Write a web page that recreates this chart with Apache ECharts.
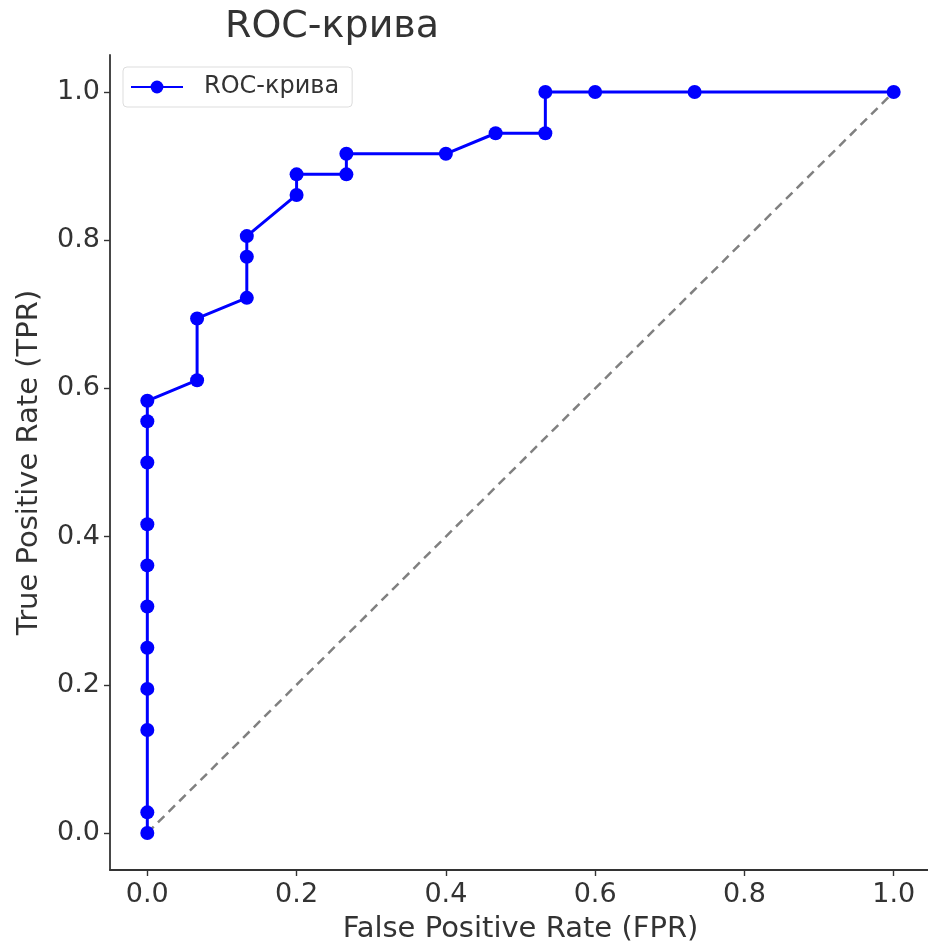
<!DOCTYPE html>
<html>
<head>
<meta charset="utf-8">
<script src="https://cdn.jsdelivr.net/npm/echarts@6/dist/echarts.min.js"></script>
<style>html,body{margin:0;padding:0;background:#fff;overflow:hidden;}#c{width:928px;height:946px;}</style>
</head>
<body>
<div id="c"></div>
<script>
const fpr = [0, 0, 0, 0, 0, 0, 0, 0, 0, 0, 0, 0.0667, 0.0667, 0.1333, 0.1333, 0.1333, 0.2, 0.2, 0.2667, 0.2667, 0.4, 0.4667, 0.5333, 0.5333, 0.6, 0.7333, 1.0];
const tpr = [0, 0.0278, 0.1389, 0.1944, 0.25, 0.3056, 0.3611, 0.4167, 0.5, 0.5556, 0.5833, 0.6111, 0.6944, 0.7222, 0.7778, 0.8056, 0.8611, 0.8889, 0.8889, 0.9167, 0.9167, 0.9444, 0.9444, 1.0, 1.0, 1.0, 1.0];
const chanceX = [0, 1];
const chanceY = [0, 1];
const tickValues = [0, 0.2, 0.4, 0.6, 0.8, 1.0];
const seriesName = 'ROC-крива';
const titleText = 'ROC-крива';
const xName = 'False Positive Rate (FPR)';
const yName = 'True Positive Rate (TPR)';

const font = 'DejaVu Sans';
const chart = echarts.init(document.getElementById('c'), null, {renderer: 'canvas'});
const axisCommon = {
  type: 'value', min: -0.05, max: 1.05,
  splitLine: {show: false},
  axisLine: {show: true, onZero: false, lineStyle: {color: '#333', width: 1.8}},
  axisTick: {show: true, inside: false, length: 6, lineStyle: {color: '#333', width: 1.4}, customValues: tickValues},
  axisLabel: {customValues: tickValues, color: '#333', fontFamily: font, fontSize: 27, formatter: v => v.toFixed(1)},
  nameLocation: 'middle',
  nameTextStyle: {color: '#333', fontFamily: font, fontSize: 29}
};
chart.setOption({
  animation: false,
  backgroundColor: '#fff',
  title: {text: titleText, left: 220, top: 3, textStyle: {fontFamily: font, fontSize: 38, fontWeight: 'normal', color: '#333'}},
  legend: {
    data: [seriesName], left: 123, top: 67, orient: 'vertical',
    backgroundColor: '#fff', borderColor: '#ddd', borderWidth: 1, borderRadius: 4,
    padding: [8, 13, 8, 7], itemWidth: 52, itemHeight: 16, itemGap: 0,
    textStyle: {fontFamily: font, fontSize: 24, color: '#333', padding: [0, 0, 0, 16]}
  },
  grid: {left: 110, top: 55, width: 821, bottom: 76, containLabel: false, outerBoundsMode: 'none'},
  xAxis: Object.assign({}, axisCommon, {name: xName, nameGap: 45, axisLabel: Object.assign({}, axisCommon.axisLabel, {margin: 11})}),
  yAxis: Object.assign({}, axisCommon, {name: yName, nameGap: 66, axisLabel: Object.assign({}, axisCommon.axisLabel, {margin: 10})}),
  series: [
    {
      type: 'line', name: 'chance', data: chanceX.map((x, i) => [x, chanceY[i]]),
      showSymbol: false, symbol: 'none', silent: true,
      lineStyle: {color: '#808080', width: 2.5, type: [9, 6]}, z: 1
    },
    {
      type: 'line', name: seriesName, data: fpr.map((x, i) => [x, tpr[i]]),
      symbol: 'circle', symbolSize: 14, showSymbol: true,
      itemStyle: {color: '#0000ff'},
      lineStyle: {color: '#0000ff', width: 3}, z: 3
    }
  ]
});
</script>
</body>
</html>
